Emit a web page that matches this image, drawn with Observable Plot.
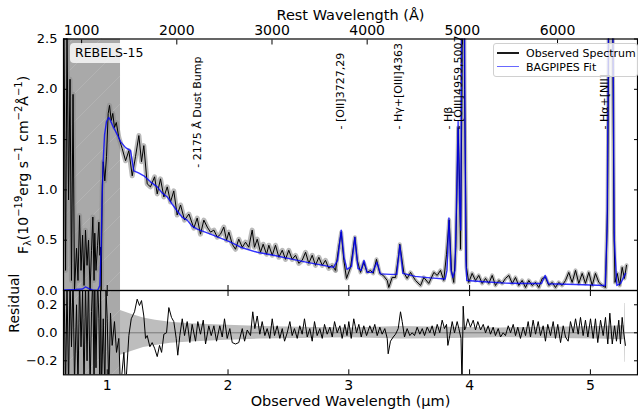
<!DOCTYPE html>
<html><head><meta charset="utf-8">
<script src="https://cdn.jsdelivr.net/npm/d3@7"></script>
<script src="https://cdn.jsdelivr.net/npm/@observablehq/plot@0.6"></script>
<style>
body{margin:0;background:#fff;}
#chart{position:relative;width:638px;height:416px;font-family:"DejaVu Sans",sans-serif;overflow:hidden;}
#chart svg{position:absolute;left:0;}
.legend{position:absolute;background:rgba(255,255,255,0.8);border:1px solid #d0d0d0;border-radius:3px;box-sizing:border-box;font-size:11px;color:#000;}
.legend .row{position:absolute;left:3px;height:14px;line-height:14px;white-space:nowrap;}
.legend .sw{display:inline-block;width:22px;height:1.4px;vertical-align:middle;margin-right:7px;position:relative;top:-1px;}
.tag{position:absolute;background:rgba(255,255,255,0.78);border-radius:4px;font-size:12.5px;line-height:20px;padding-left:5px;box-sizing:border-box;color:#000;}
</style></head><body><div id="chart"></div>
<script>
// ---------- data ----------
const zFactor = 7.88; // 1+z, for the rest-frame axis
const maskRange = [0.638, 1.11];
const obsTicks = [1, 2, 3, 4, 5];
const restTicks = [1000, 2000, 3000, 4000, 5000, 6000];
const fluxTicks = [0, 0.5, 1.0, 1.5, 2.0, 2.5];
const resTicks = [-0.2, 0, 0.2];

const obsWave = [0.642,0.655,0.667,0.680,0.692,0.704,0.717,0.729,0.746,0.758,0.771,0.783,0.796,0.808,0.820,0.833,0.845,0.858,0.870,0.881,0.891,0.897,0.907,0.920,0.931,0.939,0.945,0.950,0.959,0.967,0.980,0.994,1.008,1.019,1.033,1.046,1.060,1.075,1.096,1.124,1.152,1.179,1.207,1.234,1.262,1.284,1.303,1.331,1.358,1.392,1.414,1.441,1.469,1.497,1.524,1.551,1.579,1.607,1.640,1.676,1.717,1.745,1.772,1.800,1.828,1.855,1.883,1.911,1.938,1.965,1.988,2.007,2.035,2.062,2.089,2.118,2.145,2.172,2.200,2.219,2.242,2.269,2.291,2.319,2.338,2.366,2.393,2.421,2.449,2.476,2.503,2.531,2.559,2.586,2.614,2.642,2.669,2.697,2.724,2.752,2.780,2.807,2.834,2.862,2.890,2.917,2.937,2.959,2.981,3.014,3.050,3.070,3.097,3.124,3.152,3.180,3.202,3.229,3.257,3.285,3.318,3.331,3.359,3.387,3.414,3.422,3.455,3.483,3.511,3.552,3.594,3.621,3.662,3.704,3.732,3.759,3.786,3.809,3.831,3.850,3.869,3.886,3.905,3.918,3.925,3.937,3.947,3.958,3.974,3.993,4.021,4.049,4.076,4.104,4.132,4.159,4.187,4.214,4.242,4.270,4.297,4.325,4.353,4.380,4.407,4.435,4.463,4.490,4.518,4.546,4.573,4.601,4.628,4.656,4.684,4.711,4.738,4.766,4.794,4.821,4.849,4.877,4.904,4.932,4.959,4.987,5.015,5.042,5.070,5.098,5.125,5.142,5.154,5.168,5.183,5.195,5.204,5.222,5.243,5.263,5.282,5.299];
const obsFlux = [2.6,0.2,2.6,0.9,2.1,0.1,1.95,0.0,0.42,0.1,0.745,0.2,0.55,0.05,0.6,0.25,0.5,0.0,0.4,0.73,0.1,0.57,0.2,0.45,0.68,0.35,0.43,0.0,1.03,1.28,1.09,1.33,1.76,1.84,1.69,1.76,1.62,1.67,1.52,1.41,1.29,1.39,1.14,1.33,1.54,1.28,1.44,1.06,1.03,1.13,0.96,1.11,0.93,1.03,0.88,0.99,0.75,0.85,0.70,0.76,0.62,0.72,0.56,0.70,0.63,0.58,0.60,0.53,0.56,0.63,0.50,0.58,0.46,0.41,0.51,0.43,0.48,0.43,0.60,0.43,0.51,0.38,0.46,0.36,0.45,0.35,0.45,0.33,0.40,0.31,0.40,0.31,0.35,0.27,0.30,0.38,0.27,0.35,0.25,0.33,0.25,0.30,0.22,0.25,0.20,0.43,0.58,0.30,0.12,0.23,0.53,0.30,0.18,0.28,0.18,0.20,0.17,0.31,0.17,0.15,0.10,0.03,0.13,0.13,0.36,0.46,0.18,0.12,0.18,0.10,0.05,0.13,0.07,0.18,0.15,0.20,0.10,0.36,0.70,0.20,0.08,0.43,1.62,1.0,0.41,2.0,5.0,2.0,0.23,0.08,0.17,0.10,0.15,0.07,0.12,0.07,0.15,0.05,0.10,0.07,0.12,0.15,0.07,0.13,0.05,0.10,0.03,0.10,0.05,0.08,0.03,0.12,0.13,0.05,0.08,0.03,0.08,0.05,0.10,0.18,0.08,0.20,0.07,0.17,0.07,0.18,0.05,0.17,0.08,0.05,0.03,0.8,3.0,5.0,3.0,0.6,0.08,0.17,0.05,0.23,0.12,0.25];

const fitWave = [0.638,0.738,0.796,0.820,0.845,0.878,0.920,0.939,0.949,0.957,0.967,0.978,0.994,1.013,1.027,1.044,1.083,1.110,1.152,1.193,1.220,1.259,1.303,1.358,1.414,1.454,1.497,1.537,1.579,1.619,1.662,1.702,1.745,1.855,1.938,2.021,2.104,2.242,2.377,2.517,2.656,2.790,2.873,2.907,2.937,2.960,2.985,3.022,3.050,3.076,3.101,3.126,3.151,3.196,3.233,3.262,3.345,3.397,3.422,3.448,3.550,3.676,3.798,3.813,3.829,3.846,3.861,3.879,3.892,3.905,3.916,3.927,3.935,3.944,3.956,3.969,3.977,4.091,4.295,4.504,4.595,4.626,4.653,4.877,5.123,5.138,5.152,5.168,5.185,5.198,5.219,5.250,5.291];
const fitFlux = [0.005,0.01,0.015,0.035,0.02,0.005,0.0,0.05,0.4,0.9,1.3,1.55,1.68,1.72,1.69,1.64,1.55,1.48,1.42,1.39,1.19,1.17,1.14,1.08,1.03,0.97,0.93,0.86,0.79,0.73,0.70,0.64,0.61,0.56,0.52,0.48,0.43,0.38,0.35,0.315,0.28,0.25,0.23,0.30,0.60,0.33,0.21,0.24,0.53,0.22,0.20,0.30,0.18,0.18,0.28,0.165,0.16,0.16,0.45,0.17,0.14,0.125,0.115,0.20,0.72,0.20,0.13,0.20,0.9,1.68,0.9,0.6,3.0,5.0,3.0,0.3,0.10,0.09,0.073,0.07,0.07,0.15,0.067,0.06,0.05,0.6,3.0,6.0,3.0,0.5,0.05,0.07,0.17];

const resWave = [0.642,0.655,0.667,0.680,0.692,0.704,0.717,0.729,0.746,0.758,0.771,0.783,0.796,0.808,0.820,0.833,0.845,0.858,0.870,0.881,0.891,0.897,0.907,0.920,0.931,0.939,0.945,0.953,0.967,0.980,0.990,1.000,1.013,1.027,1.041,1.060,1.077,1.096,1.110,1.138,1.152,1.179,1.199,1.226,1.248,1.267,1.284,1.303,1.317,1.331,1.353,1.372,1.392,1.414,1.433,1.450,1.469,1.491,1.510,1.532,1.551,1.571,1.584,1.601,1.621,1.640,1.662,1.684,1.703,1.731,1.750,1.772,1.795,1.814,1.841,1.861,1.883,1.905,1.932,1.952,1.971,1.993,2.015,2.035,2.062,2.089,2.118,2.137,2.159,2.186,2.205,2.222,2.242,2.263,2.283,2.305,2.324,2.346,2.366,2.385,2.407,2.429,2.449,2.468,2.490,2.512,2.531,2.550,2.573,2.594,2.614,2.633,2.656,2.677,2.697,2.716,2.738,2.760,2.780,2.799,2.821,2.843,2.863,2.882,2.904,2.926,2.945,2.967,2.985,3.000,3.020,3.041,3.064,3.083,3.103,3.124,3.147,3.174,3.194,3.215,3.235,3.257,3.276,3.298,3.318,3.326,3.345,3.368,3.387,3.409,3.428,3.442,3.461,3.483,3.505,3.525,3.544,3.566,3.588,3.608,3.627,3.649,3.671,3.690,3.710,3.732,3.753,3.773,3.792,3.809,3.820,3.836,3.856,3.875,3.897,3.911,3.929,3.937,3.947,3.958,3.966,3.985,4.007,4.030,4.049,4.068,4.091,4.113,4.132,4.154,4.173,4.195,4.214,4.237,4.256,4.278,4.297,4.320,4.339,4.361,4.380,4.399,4.421,4.444,4.463,4.485,4.504,4.526,4.546,4.568,4.587,4.609,4.628,4.647,4.670,4.692,4.711,4.730,4.753,4.775,4.794,4.816,4.835,4.858,4.877,4.899,4.918,4.940,4.959,4.979,5.001,5.023,5.042,5.061,5.084,5.106,5.125,5.144,5.161,5.181,5.200,5.216,5.235,5.249,5.263,5.276,5.290];
const resVal = [0.4,-0.4,0.35,-0.4,0.4,-0.1,0.4,-0.35,0.2,-0.4,0.4,-0.1,0.3,-0.4,0.35,-0.2,0.4,-0.4,0.15,0.4,-0.4,0.3,-0.25,0.4,0.1,-0.4,0.35,-0.4,0.1,-0.4,0.3,0.10,-0.4,0.14,-0.09,0.08,-0.14,-0.04,-0.4,-0.14,-0.4,-0.02,0.10,0.15,0.24,0.195,0.23,0.12,-0.04,-0.02,-0.10,-0.07,-0.11,-0.17,-0.09,-0.14,-0.01,0.00,0.18,0.11,0.08,-0.04,-0.16,-0.02,0.10,-0.02,0.08,-0.07,0.06,-0.06,0.08,-0.01,0.09,-0.08,0.05,-0.02,0.05,-0.06,0.05,-0.03,0.10,-0.04,0.03,-0.07,-0.08,-0.07,0.03,-0.06,0.02,-0.02,0.15,0.03,0.12,-0.01,0.08,-0.02,0.03,-0.04,0.10,-0.02,0.05,-0.04,0.03,-0.06,0.00,0.08,-0.02,0.03,-0.04,0.05,-0.01,0.10,-0.03,0.03,-0.06,0.08,-0.02,0.03,-0.04,0.06,-0.01,0.04,-0.03,0.08,0.00,0.05,-0.04,0.06,-0.02,0.08,-0.04,0.10,0.00,0.06,-0.03,0.05,-0.02,0.05,0.00,0.06,-0.02,0.04,-0.01,0.03,-0.04,-0.15,-0.06,-0.03,-0.01,0.03,0.15,0.08,-0.03,0.03,-0.02,0.00,-0.02,0.04,-0.01,0.03,-0.02,0.04,0.00,0.05,-0.02,0.06,0.00,0.09,0.03,0.06,-0.09,-0.02,0.08,0.00,0.08,0.03,-0.04,-0.38,0.19,0.02,0.03,0.10,0.04,0.09,0.02,0.08,0.02,0.06,0.00,0.05,-0.01,0.04,-0.02,0.03,-0.03,0.00,-0.02,0.05,0.00,0.06,-0.02,0.04,-0.04,0.04,-0.02,0.08,-0.03,0.09,-0.01,0.08,-0.02,0.05,-0.06,0.06,-0.02,0.08,-0.04,0.06,-0.07,0.05,-0.03,-0.06,0.08,0.00,0.10,-0.01,0.11,-0.02,0.09,-0.03,0.10,-0.04,0.10,-0.07,0.09,-0.02,0.11,-0.08,0.14,-0.08,0.05,-0.06,0.09,-0.08,0.11,0.00,-0.09];

const errWave = [1.100,1.110,1.193,1.301,1.400,1.524,1.690,1.938,2.269,2.600,3.014,3.428,3.842,4.256,4.670,5.084,5.266,5.281,5.284,5.288];
const errVal  = [0.17,0.16,0.135,0.105,0.09,0.075,0.065,0.055,0.045,0.04,0.035,0.045,0.04,0.035,0.04,0.045,0.05,0.05,0.21,0.21];

const labelText = ["- 2175 Å Dust Bump", "- [OII]3727,29", "- Hγ+[OIII]4363", "- Hβ", "- [OIII]4959,5007", "- Hα+[NII]"];
const labelWave = [1.745, 2.929, 3.411, 3.825, 3.908, 5.117];
const labelFlux = [1.22, 1.60, 1.60, 1.60, 1.60, 1.60];

const legendItems = ["Observed Spectrum", "BAGPIPES Fit"];
const legendColors = ["#1a1a1a", "rgba(40,40,255,0.7)"];

// ---------- build ----------
const obs = obsWave.map((w, i) => ({w, f: obsFlux[i]}));
const fit = fitWave.map((w, i) => ({w, f: fitFlux[i]}));
const res = resWave.map((w, i) => ({w, r: resVal[i]}));
const err = errWave.map((w, i) => ({w, e: errVal[i]}));
const ann = labelText.map((t, i) => ({t, w: labelWave[i], f: labelFlux[i]}));
const xDomain = [0.638, 5.39];
const baseStyle = {fontFamily: "DejaVu Sans", fontSize: "14px", color: "black", background: "transparent", overflow: "visible"};
const f1 = d3.format(".1f");

const topPlot = Plot.plot({
  width: 638, height: 291,
  marginTop: 38.5, marginBottom: 1, marginLeft: 63, marginRight: 1,
  style: baseStyle,
  x: {domain: xDomain},
  y: {domain: [0, 2.5]},
  marks: [
    Plot.rect([maskRange], {x1: d => d[0], x2: d => d[1], fill: "#a9a9a9"}),
    Plot.rect([maskRange], {x1: d => d[0], x2: d => d[1], fill: "url(#hatchTop)"}),
    Plot.line(obs.filter(d => d.w < 2.9), {x: "w", y: "f", stroke: "#8c8c8c", strokeOpacity: 0.6, strokeWidth: 5, clip: true}),
    Plot.line(obs.filter(d => d.w >= 2.88), {x: "w", y: "f", stroke: "#8c8c8c", strokeOpacity: 0.6, strokeWidth: 4, clip: true}),
    Plot.line(obs, {x: "w", y: "f", stroke: "black", strokeWidth: 1, clip: true}),
    Plot.line(fit, {x: "w", y: "f", stroke: "#0000ff", strokeOpacity: 0.8, strokeWidth: 1.4, clip: true}),
    Plot.text(ann, {x: "w", y: "f", text: "t", rotate: -90, textAnchor: "start", lineAnchor: "middle", fontSize: 11, fill: "black"}),
    Plot.text(["Rest Wavelength (Å)"], {text: d => d, frameAnchor: "top", dy: -29, fontSize: 14.5, fill: "black"}),
    Plot.axisY(fluxTicks, {anchor: "left", tickSize: -4, tickPadding: 10, fontSize: 13, tickFormat: f1, label: null}),
    Plot.axisY(fluxTicks, {anchor: "right", tickSize: -4, tickFormat: () => "", label: null}),
    Plot.axisX(obsTicks, {anchor: "bottom", tickSize: -5, tickFormat: () => "", label: null}),
    Plot.axisX(restTicks.map(r => r * zFactor / 1e4), {anchor: "top", tickSize: -5, tickPadding: 9, tickFormat: d => String(Math.round(d * 1e4 / zFactor / 100) * 100), label: null}),
    Plot.frame({stroke: "black", strokeWidth: 1.2})
  ]
});

const botPlot = Plot.plot({
  width: 638, height: 126,
  marginTop: 0, marginBottom: 41.7, marginLeft: 63, marginRight: 1,
  style: baseStyle,
  x: {domain: xDomain},
  y: {domain: [-0.3, 0.302]},
  marks: [
    Plot.areaY(err, {x: "w", y1: d => -d.e, y2: d => d.e, fill: "#bdbdbd", clip: true}),
    Plot.rect([maskRange], {x1: d => d[0], x2: d => d[1], fill: "#a9a9a9"}),
    Plot.rect([maskRange], {x1: d => d[0], x2: d => d[1], fill: "url(#hatchBot)"}),
    Plot.ruleY([0], {stroke: "#7a7a7a", strokeWidth: 1}),
    Plot.line(res, {x: "w", y: "r", stroke: "black", strokeWidth: 1, clip: true}),
    Plot.text(["Residual"], {text: d => d, frameAnchor: "left", rotate: -90, dx: -49, fontSize: 14, fill: "black"}),
    Plot.text(["Observed Wavelength (μm)"], {text: d => d, frameAnchor: "bottom", dy: 31, fontSize: 14.5, fill: "black"}),
    Plot.axisY(resTicks, {anchor: "left", tickSize: -4, tickPadding: 10, fontSize: 13, tickFormat: f1, label: null}),
    Plot.axisY(resTicks, {anchor: "right", tickSize: -4, tickFormat: () => "", label: null}),
    Plot.axisX(obsTicks, {anchor: "bottom", tickSize: -5, tickPadding: 10, tickFormat: d => String(d), label: null}),
    Plot.axisX(obsTicks, {anchor: "top", tickSize: -5, tickFormat: () => "", label: null}),
    Plot.frame({stroke: "black", strokeWidth: 1.2})
  ]
});

function addHatch(svg, id) {
  const defs = d3.select(svg).insert("defs", ":first-child");
  const p = defs.append("pattern").attr("id", id).attr("patternUnits", "userSpaceOnUse")
    .attr("width", 28).attr("height", 28);
  p.append("path").attr("d", "M-2,30 L30,-2 M-16,16 L16,-16 M12,44 L44,12")
    .attr("stroke", "#b6b6b6").attr("stroke-width", 0.8).attr("fill", "none");
}
addHatch(topPlot, "hatchTop");
addHatch(botPlot, "hatchBot");

// y label with sub/superscripts
const yl = d3.select(topPlot).append("text")
  .attr("transform", "translate(28,165) rotate(-90)")
  .attr("text-anchor", "middle").attr("font-size", 14)
  .attr("font-family", "DejaVu Sans").attr("fill", "black");
const parts = [["F", 0, 14], ["λ", 3, 10], ["(10", -3, 14], ["−19", -6, 10], ["erg s", 6, 14], ["−1", -6, 10], [" cm", 6, 14], ["−2", -6, 10], ["Å", 6, 14], ["−1", -6, 10], [")", 6, 14]];
parts.forEach(([t, dy, fs]) => yl.append("tspan").attr("dy", dy).attr("font-size", fs).text(t));

const chart = document.getElementById("chart");
topPlot.style.top = "0px";
botPlot.style.top = "290px";
chart.appendChild(botPlot);
chart.appendChild(topPlot);

// tag box
const tag = document.createElement("div");
tag.className = "tag";
tag.style.cssText = "left:70px;top:43px;width:76px;height:20px;";
tag.textContent = "REBELS-15";
chart.appendChild(tag);

// legend
const lg = document.createElement("div");
lg.className = "legend";
lg.style.cssText = "left:493px;top:43px;width:145px;height:34px;";
legendItems.forEach((t, i) => {
  const row = document.createElement("div");
  row.className = "row";
  row.style.top = (3 + i * 13.5) + "px";
  const sw = document.createElement("span");
  sw.className = "sw";
  sw.style.background = legendColors[i];
  row.appendChild(sw);
  row.appendChild(document.createTextNode(t));
  lg.appendChild(row);
});
chart.appendChild(lg);
</script>
</body></html>
